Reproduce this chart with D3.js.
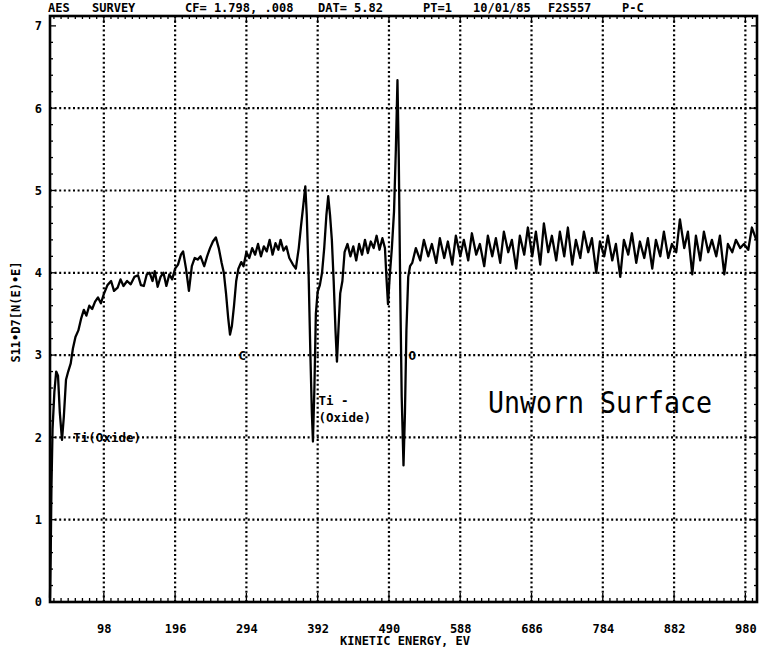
<!DOCTYPE html>
<html>
<head>
<meta charset="utf-8">
<script src="https://cdn.jsdelivr.net/npm/d3@7/dist/d3.min.js"></script>
<style>
  html, body { margin: 0; padding: 0; background: #fff; }
  svg { display: block; }
  text { font-family: "DejaVu Sans Mono", "Liberation Mono", monospace; fill: #000; }
</style>
</head>
<body>
<svg id="chart" width="760" height="651"></svg>
<script>
// AES survey spectrum: kinetic energy (eV) and differentiated signal
const energy = [
  24, 25, 26, 27.5, 30, 32.5, 35, 37.5, 40.5, 43, 46, 49, 52.5, 55.5, 59, 63, 67, 70.5, 74, 78, 82, 86, 90, 94, 98,
  103, 108, 112, 117, 121, 125, 130, 135, 140, 145, 149, 153, 157, 161, 165, 168, 172, 176, 180, 184, 188, 192, 196,
  200, 204, 207, 211, 215, 219, 223, 227, 231, 236, 240, 244, 248, 252, 256, 260, 263, 266, 269, 271.5, 274, 277,
  280, 283, 287, 290,
  294, 298, 302, 306, 310, 314, 318, 322, 326, 330, 334, 338, 341, 345, 349, 353, 358, 362, 366, 369, 372, 375, 377,
  379.5, 382, 384, 385.5, 387.5, 389.5, 392, 395, 398, 401, 404, 406.5, 409, 411.5, 414, 416.5, 418.5, 420.5, 423,
  426, 429,
  433, 437, 441, 445, 449, 453, 457, 461, 465, 469, 473, 477, 481, 484.5, 486.5, 488.7, 491, 494, 497, 499.5, 501.7,
  503.5, 505.5, 507.5, 510, 512, 514, 516.5, 519, 522,
  527, 533, 538, 544, 549, 555, 560, 566, 571, 577, 582, 588, 593, 599, 604, 610, 615, 621, 626, 632, 637, 643, 648,
  654, 659, 665, 670, 676, 681, 687, 692, 698, 703, 709, 714, 720, 725, 731, 736, 742, 747, 753, 758, 764, 769, 775,
  780, 786, 791, 797, 802, 808, 813, 819, 824, 830, 835, 841, 846, 852, 857, 863, 868, 874, 879, 885, 890, 896, 901,
  907, 912, 918, 923, 929, 934, 940, 945, 951, 956, 962, 967, 973, 978, 984, 989, 995
];
const signal = [
  0.05, 0.6, 1.4, 2.1, 2.55, 2.8, 2.75, 2.3, 1.97, 2.25, 2.7, 2.8, 2.9, 3.08, 3.22, 3.3, 3.45, 3.55, 3.48, 3.6, 3.56, 3.65, 3.7, 3.63, 3.74,
  3.85, 3.9, 3.78, 3.82, 3.92, 3.84, 3.9, 3.86, 3.95, 3.97, 3.85, 3.84, 3.98, 4.0, 3.9, 4.02, 3.83, 3.95, 4.0, 3.84, 3.98, 3.92, 4.05,
  4.1, 4.22, 4.26, 4.05, 3.78, 4.08, 4.18, 4.16, 4.2, 4.08, 4.2, 4.3, 4.38, 4.43, 4.3, 4.12, 4.0, 3.75, 3.45, 3.25, 3.35, 3.6,
  3.9, 4.05, 4.13, 4.08,
  4.25, 4.18, 4.3, 4.22, 4.35, 4.2, 4.32, 4.26, 4.4, 4.22, 4.36, 4.28, 4.4, 4.27, 4.32, 4.18, 4.1, 4.05, 4.3, 4.56, 4.8, 5.05, 4.7,
  4.0, 3.0, 2.3, 1.95, 2.6, 3.5, 3.77, 3.85, 4.0, 4.3, 4.7, 4.93, 4.7, 4.4, 3.9, 3.3, 2.92, 3.3, 3.75,
  3.9, 4.25,
  4.35, 4.2, 4.32, 4.15, 4.35, 4.22, 4.4, 4.24, 4.38, 4.3, 4.45, 4.28, 4.42, 4.3, 3.95, 3.62, 3.95, 4.3, 4.75, 5.5, 6.34,
  5.4, 3.8, 2.5, 1.66, 2.3, 3.3, 3.95, 4.08, 4.12,
  4.3, 4.15, 4.4, 4.2, 4.35, 4.12, 4.42, 4.18, 4.38, 4.1, 4.45, 4.2, 4.4, 4.15, 4.48, 4.22, 4.35, 4.08, 4.45, 4.2, 4.42, 4.12, 4.5,
  4.25, 4.4, 4.05, 4.45, 4.22, 4.55, 4.2, 4.5, 4.1, 4.6, 4.25, 4.45, 4.15, 4.5, 4.2, 4.55, 4.1, 4.4, 4.18, 4.5, 4.25, 4.42, 4.0,
  4.38, 4.2, 4.45, 4.15, 4.35, 3.95, 4.4, 4.22, 4.48, 4.12, 4.38, 4.18, 4.42, 4.05, 4.4, 4.2, 4.5, 4.18, 4.35, 4.25, 4.65, 4.3, 4.5,
  3.98, 4.45, 4.15, 4.5, 4.25, 4.4, 4.2, 4.45, 3.98, 4.35, 4.25, 4.4, 4.3, 4.35, 4.28, 4.55, 4.4
];

const xTickValues = [98, 196, 294, 392, 490, 588, 686, 784, 882, 980];
const xTickLabels = ["98", "196", "294", "392", "490", "588", "686", "784", "882", "980"];
const yTickValues = [0, 1, 2, 3, 4, 5, 6, 7];
const yTickLabels = ["0", "1", "2", "3", "4", "5", "6", "7"];

const headerFields = ["AES", "SURVEY", "CF= 1.798, .008", "DAT= 5.82", "PT=1", "10/01/85", "F2S557", "P-C"];
const xTitle = "KINETIC ENERGY, EV";
const yTitle = "S11\u2022D7[N(E)\u2022E]";

// peak annotations: label lines, energy and signal level they sit at
const notes = [
  { lines: ["Ti(Oxide)"], e: 56, v: 2 },
  { lines: ["C"], e: 283, v: 3 },
  { lines: ["Ti -", "(Oxide)"], e: 393, v: 2.45 },
  { lines: ["O"], e: 517, v: 3 }
];
const caption = "Unworn Surface";

const svg = d3.select("#chart");
const plotLeft = 50, plotRight = 757, plotTop = 16, plotBottom = 602;

const x = d3.scaleLinear().domain([24, 996]).range([plotLeft, plotRight]);
// the frame top sits a little above the 7 level
const y = d3.scaleLinear().domain([0, 7.12]).range([plotBottom, plotTop]);

const x0 = plotLeft, x1 = plotRight, y0 = plotBottom, y1 = plotTop;

// dotted grid
const grid = svg.append("g").attr("stroke", "#000").attr("stroke-width", 2.2)
  .attr("stroke-dasharray", "2,2.6");
grid.selectAll("line.v").data(xTickValues).join("line")
  .attr("class", "v")
  .attr("x1", d => x(d)).attr("x2", d => x(d))
  .attr("y1", y0).attr("y2", y1);
grid.selectAll("line.h").data(yTickValues.filter(v => v > 0 && v < 7)).join("line")
  .attr("class", "h")
  .attr("x1", x0).attr("x2", x1)
  .attr("y1", d => y(d)).attr("y2", d => y(d));

// minor ticks on all four sides
const isMajorE = e => Math.abs(e / 98 - Math.round(e / 98)) < 0.01;
const isMajorV = v => Math.abs(v - Math.round(v)) < 0.01;
const minor = d3.range(0, 1000, 9.8).filter(e => e >= 24 && e <= 996);
const tk = svg.append("g").attr("stroke", "#000").attr("stroke-width", 1.3);
tk.selectAll("line.mb").data(minor).join("line").attr("class", "mb")
  .attr("x1", d => x(d)).attr("x2", d => x(d))
  .attr("y1", y0).attr("y2", d => y0 - (isMajorE(d) ? 9 : 4));
tk.selectAll("line.mt").data(minor).join("line").attr("class", "mt")
  .attr("x1", d => x(d)).attr("x2", d => x(d))
  .attr("y1", y1).attr("y2", d => y1 + (isMajorE(d) ? 7 : 3));
const vMinor = d3.range(0, 7.01, 0.2);
tk.selectAll("line.ml").data(vMinor).join("line").attr("class", "ml")
  .attr("x1", x0).attr("x2", d => x0 + (isMajorV(d) ? 6 : 3))
  .attr("y1", d => y(d)).attr("y2", d => y(d));
tk.selectAll("line.mr").data(vMinor).join("line").attr("class", "mr")
  .attr("x1", x1).attr("x2", d => x1 - (isMajorV(d) ? 6 : 3))
  .attr("y1", d => y(d)).attr("y2", d => y(d));

// frame
svg.append("rect").attr("x", x0).attr("y", y1).attr("width", x1 - x0).attr("height", y0 - y1)
  .attr("fill", "none").attr("stroke", "#000").attr("stroke-width", 2.6);

// axis labels through d3 axes (lines hidden, text kept)
const xAxis = d3.axisBottom(x).tickValues(xTickValues).tickFormat((d, i) => xTickLabels[i]).tickSize(0).tickPadding(22);
const gx = svg.append("g").attr("transform", `translate(0,${y0})`).call(xAxis);
gx.select(".domain").remove();
gx.selectAll("text").attr("font-family", "DejaVu Sans Mono").attr("font-weight", "bold").attr("font-size", 12);

const yAxis = d3.axisLeft(y).tickValues(yTickValues).tickFormat((d, i) => yTickLabels[i]).tickSize(0).tickPadding(8);
const gy = svg.append("g").attr("transform", `translate(${x0},0)`).call(yAxis);
gy.select(".domain").remove();
gy.selectAll("text").attr("font-family", "DejaVu Sans Mono").attr("font-weight", "bold").attr("font-size", 12);

// spectrum trace
const line = d3.line().x(d => x(d[0])).y(d => y(d[1])).curve(d3.curveLinear);
svg.append("path").datum(energy.map((e, i) => [e, signal[i]]))
  .attr("d", line).attr("fill", "none").attr("stroke", "#000")
  .attr("stroke-width", 2.3).attr("stroke-linejoin", "round");

// header line
const headerX = [48, 92, 185, 318, 423, 473, 548, 622];
svg.append("g").selectAll("text").data(headerFields).join("text")
  .attr("x", (d, i) => headerX[i]).attr("y", 12)
  .attr("font-size", 12).attr("font-weight", "bold").text(d => d);

// axis titles
svg.append("text").attr("x", 405).attr("y", 645).attr("text-anchor", "middle")
  .attr("font-size", 12).attr("font-weight", "bold").text(xTitle);
svg.append("text").attr("transform", "translate(20,312) rotate(-90)").attr("text-anchor", "middle")
  .attr("font-size", 12).attr("font-weight", "bold").text(yTitle);

// peak annotations
notes.forEach(n => {
  const t = svg.append("text").attr("x", x(n.e)).attr("y", y(n.v) + 5)
    .attr("font-size", 12.5).attr("font-weight", "bold");
  n.lines.forEach((s, i) => t.append("tspan").attr("x", x(n.e)).attr("dy", i === 0 ? 0 : 17).text(s));
});

svg.append("text").attr("x", 488).attr("y", 413).attr("font-size", 30)
  .attr("textLength", 224).attr("lengthAdjust", "spacingAndGlyphs").text(caption);
</script>
</body>
</html>
